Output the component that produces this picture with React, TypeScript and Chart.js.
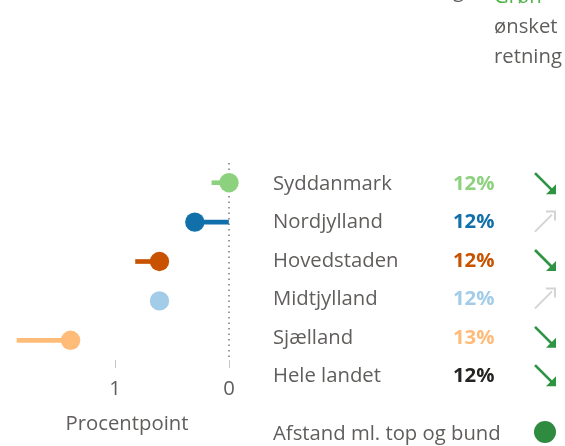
import React, { useEffect, useRef } from 'react';
import { Chart, registerables } from 'chart.js';

Chart.register(...registerables);

// ---- data ----
const regions = ['Syddanmark', 'Nordjylland', 'Hovedstaden', 'Midtjylland', 'Sjælland'];
const gapNow = [0, 0.3, 0.61, 0.61, 1.39];
const gapBefore = [0.15, 0, 0.82, 0.61, 1.86];
const shareLabels = ['12%', '12%', '12%', '12%', '13%'];
const totalLabel = 'Hele landet';
const totalShare = '12%';
const trends = ['down', 'up', 'down', 'up', 'down', 'down'];
const regionColors = ['#8CD17D', '#1170AA', '#C85200', '#A3CCE9', '#FFBC79'];
const xTickValues = [1, 0];
const X_MAX = 1.79;
const axisTitle = 'Procentpoint';
const legendLabel = 'Afstand ml. top og bund';
const noteLines = ['ønsket', 'retning'];

// ---- styles ----
const FONT = '"Open Sans", "Noto Sans", sans-serif';
const FS = 20.3;
const GREY = '#605E5C';
const GOOD = '#2E9444';
const BAD = '#D4D4D4';
const ROW_GAP = 38.4;

function drawArrow(ctx: CanvasRenderingContext2D, cx: number, cy: number, dir: string) {
  const good = dir === 'down';
  const x0 = cx - 10;
  const x1 = cx + 10;
  const y0 = good ? cy - 10 : cy + 10;
  const y1 = good ? cy + 10 : cy - 10;
  ctx.save();
  ctx.strokeStyle = good ? GOOD : BAD;
  ctx.fillStyle = good ? GOOD : BAD;
  ctx.lineWidth = good ? 2.6 : 2;
  ctx.lineCap = 'butt';
  ctx.beginPath();
  ctx.moveTo(x0, y0);
  ctx.lineTo(x1 - 3, good ? y1 - 3 : y1 + 3);
  ctx.stroke();
  if (good) {
    ctx.beginPath();
    ctx.moveTo(x1 + 1, y1 + 1);
    ctx.lineTo(x1 - 9, y1 + 1);
    ctx.lineTo(x1 + 1, y1 - 9);
    ctx.closePath();
    ctx.fill();
  } else {
    ctx.beginPath();
    ctx.moveTo(x1 - 9, y1);
    ctx.lineTo(x1, y1);
    ctx.lineTo(x1, y1 + 9);
    ctx.stroke();
  }
  ctx.restore();
}

const decorPlugin = {
  id: 'decor',
  beforeDatasetsDraw(chart: any) {
    const { ctx, chartArea } = chart;
    const x = chart.scales.x.getPixelForValue(0);
    ctx.save();
    ctx.strokeStyle = '#7A7A7A';
    ctx.lineWidth = 1.5;
    ctx.setLineDash([1.5, 4]);
    ctx.beginPath();
    ctx.moveTo(x, chartArea.top);
    ctx.lineTo(x, chartArea.bottom - 2);
    ctx.stroke();
    ctx.restore();
  },
  afterDraw(chart: any) {
    const { ctx } = chart;
    const yScale = chart.scales.y;
    const first = yScale.getPixelForValue(0) + 1.5;
    const rows = regions.map((r, i) => ({ label: r, share: shareLabels[i], color: regionColors[i], trend: trends[i] }));
    rows.push({ label: totalLabel, share: totalShare, color: '#252423', trend: trends[5] });
    ctx.save();
    ctx.textBaseline = 'middle';
    ctx.textAlign = 'left';
    rows.forEach((row, i) => {
      const cy = first + i * ROW_GAP;
      ctx.font = `${FS}px ${FONT}`;
      ctx.fillStyle = GREY;
      ctx.fillText(row.label, 273, cy);
      ctx.font = `bold ${FS}px ${FONT}`;
      ctx.fillStyle = row.color;
      ctx.fillText(row.share, 453, cy);
      drawArrow(ctx, 545, cy - 1, row.trend);
    });
    // legend
    ctx.font = `${FS}px ${FONT}`;
    ctx.fillStyle = GREY;
    ctx.fillText(legendLabel, 273, 434);
    ctx.fillStyle = '#2E8B40';
    ctx.beginPath();
    ctx.arc(545, 432, 11, 0, Math.PI * 2);
    ctx.fill();
    // note (top right, partly cut off)
    ctx.fillStyle = GREY;
    ctx.textAlign = 'right';
    ctx.fillText('udvikling', 464, -9);
    ctx.textAlign = 'left';
    ctx.fillStyle = '#4DB348';
    ctx.fillText('Grøn', 494, -3);
    const w = ctx.measureText('Grøn ').width;
    ctx.fillStyle = GREY;
    ctx.fillText('=', 494 + w, -3);
    noteLines.forEach((t, i) => ctx.fillText(t, 494, 27 + i * 30));
    ctx.restore();
  },
};

export default function App() {
  const ref = useRef<HTMLCanvasElement | null>(null);
  useEffect(() => {
    if (!ref.current) return;
    const chart = new Chart(ref.current, {
      type: 'bar',
      data: {
        labels: regions,
        datasets: [
          {
            type: 'scatter' as any,
            data: regions.map((r, i) => ({ x: gapNow[i], y: r })) as any,
            backgroundColor: regionColors,
            pointBackgroundColor: regionColors,
            pointRadius: 9.7,
            pointBorderWidth: 0,
            pointHoverRadius: 9.7,
            clip: false as any,
            order: 0,
          } as any,
          {
            type: 'bar',
            data: regions.map((r, i) => [gapBefore[i], gapNow[i]]) as any,
            backgroundColor: regionColors,
            barThickness: 4,
            borderSkipped: false,
            clip: false as any,
            order: 1,
          } as any,
        ],
      },
      options: {
        indexAxis: 'y',
        animation: false,
        responsive: false,
        events: [],
        layout: { padding: { left: 25, right: 336, top: 163, bottom: 0 } },
        plugins: { legend: { display: false }, tooltip: { enabled: false } },
        scales: {
          x: {
            type: 'linear',
            reverse: true,
            min: 0,
            max: X_MAX,
            afterFit: (s: any) => {
              s.height = 86;
            },
            afterBuildTicks: (s: any) => {
              s.ticks = xTickValues.map((v) => ({ value: v }));
            },
            border: { display: false },
            grid: { drawOnChartArea: false, drawTicks: true, tickLength: 8, color: '#C8C6C4', tickColor: '#C8C6C4' },
            ticks: { color: GREY, font: { family: FONT, size: FS }, padding: 9.5, maxRotation: 0 },
            title: { display: true, text: axisTitle, color: GREY, font: { family: FONT, size: FS }, padding: { top: 0, bottom: 10 } },
          },
          y: {
            type: 'category',
            display: false,
            offset: true,
          },
        },
      } as any,
      plugins: [decorPlugin],
    });
    return () => chart.destroy();
  }, []);
  return (
    <div style={{ position: 'absolute', left: 0, top: 0, width: 565, height: 446, background: '#fff' }}>
      <canvas ref={ref} width={565} height={446} style={{ display: 'block' }} />
    </div>
  );
}
